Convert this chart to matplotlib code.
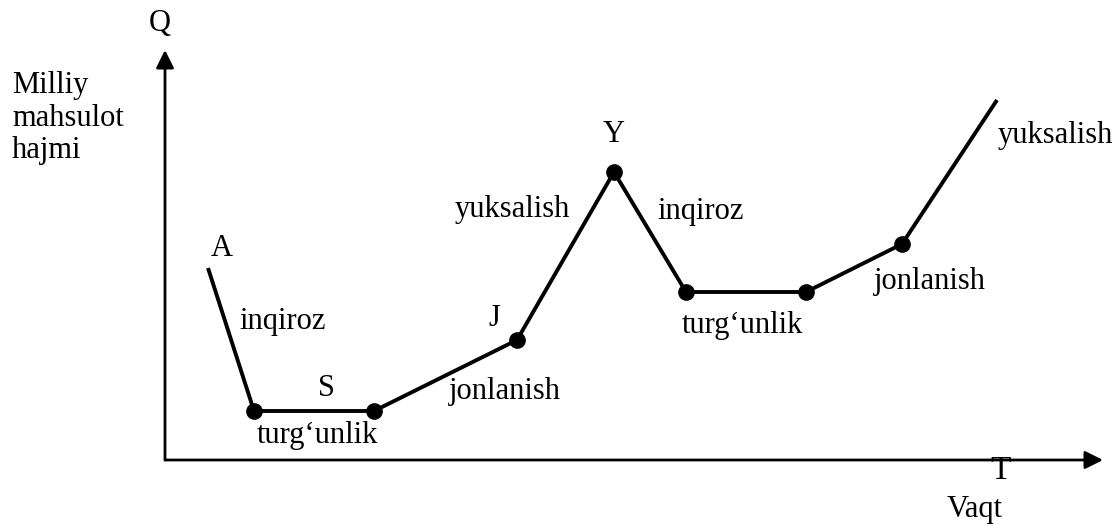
import matplotlib.pyplot as plt

plt.rcParams['font.family'] = ['Liberation Serif', 'DejaVu Serif']

# path of national output over time (x = time, y = volume), origin at axes corner
time_pts = [43, 89, 209, 352, 449, 521, 641, 737, 832]
output_pts = [192, 49, 49, 120, 288, 168, 168, 216, 360]
# which of the points get a dot
dot_idx = [1, 2, 3, 4, 5, 6, 7]

# phase labels: text, x, y
labels = [
    ("A", 57, 212),
    ("inqiroz", 118, 138),
    ("S", 161, 71),
    ("turg\u2018unlik", 152, 25),
    ("J", 329, 142),
    ("jonlanish", 340, 68),
    ("yuksalish", 347, 250),
    ("Y", 449, 326),
    ("inqiroz", 536, 248),
    ("turg\u2018unlik", 577, 134),
    ("jonlanish", 765, 178),
    ("yuksalish", 890, 324),
]

fig = plt.figure(figsize=(11.18, 5.24), dpi=100)
ax = fig.add_axes([0, 0, 1, 1])
ax.set_xlim(-165, 1118 - 165)
ax.set_ylim(460 - 524, 460)
ax.axis('off')

fs = 22

# axes with arrows
ax.annotate('', xy=(0, 410), xytext=(0, 0),
            arrowprops=dict(arrowstyle='-|>', color='black', lw=2, mutation_scale=27, shrinkA=0, shrinkB=0))
ax.annotate('', xy=(938, 0), xytext=(0, 0),
            arrowprops=dict(arrowstyle='-|>', color='black', lw=2, mutation_scale=27, shrinkA=0, shrinkB=0))

ax.plot(time_pts, output_pts, color='black', lw=2.8, solid_capstyle='butt', zorder=2)
ax.plot([time_pts[i] for i in dot_idx], [output_pts[i] for i in dot_idx], 'o',
        color='black', markersize=11, zorder=3)

for txt, x, y in labels:
    ax.text(x, y, txt, fontsize=fs, ha='center', va='center')

ax.text(-5, 437, "Q", fontsize=fs, ha='center', va='center')
ax.text(-153, 342, "Milliy\nmahsulot\nhajmi", fontsize=fs, ha='left', va='center', linespacing=1.15)
ax.text(836, -11, "T", fontsize=fs + 2, ha='center', va='center', zorder=5)
ax.text(810, -64, "Vaqt", fontsize=fs, ha='center', va='bottom')

fig.savefig('out.png', dpi=100)
